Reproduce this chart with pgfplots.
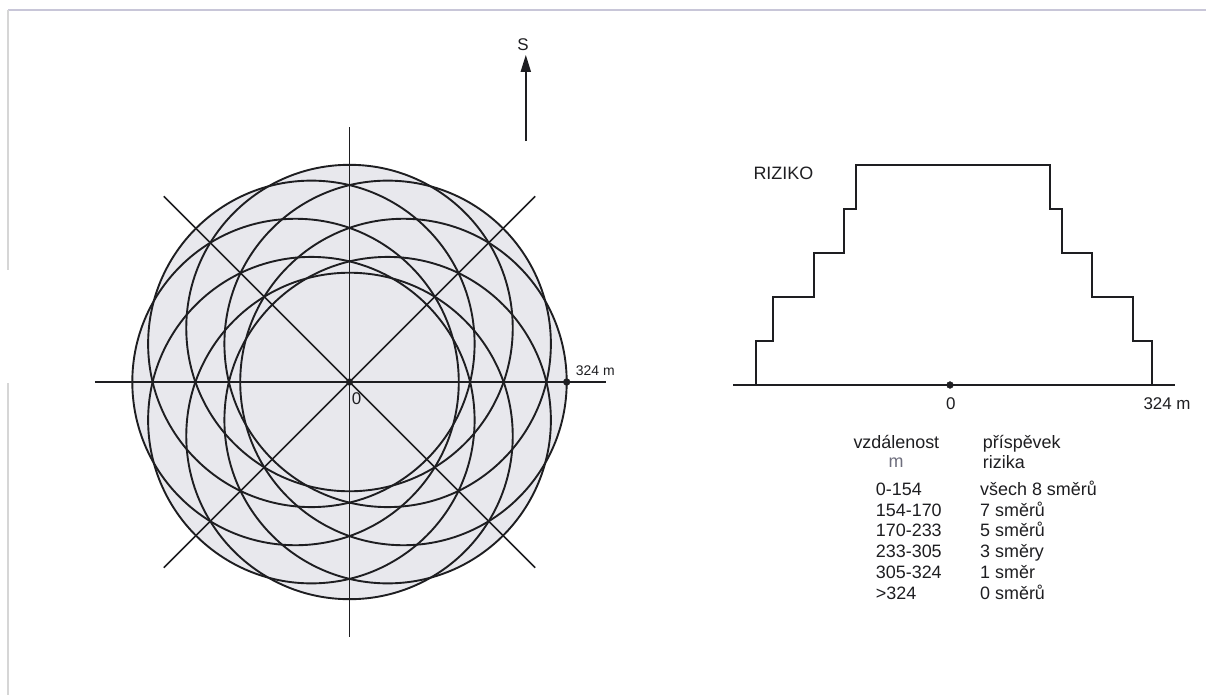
\documentclass[border=0pt]{standalone}
\usepackage{pgfplots}
\pgfplotsset{compat=1.18}
\usepackage{fontspec}
\setmainfont{Liberation Sans}
\usetikzlibrary{arrows.meta}
\definecolor{fillg}{RGB}{232,232,237}
\definecolor{ink}{RGB}{30,30,33}
\definecolor{frameA}{RGB}{200,198,216}
\definecolor{frameB}{RGB}{214,214,214}
\definecolor{mgray}{RGB}{110,110,125}

\begin{document}
\begin{tikzpicture}
\useasboundingbox (0,0) rectangle (1206bp,-695bp);
\fill[white] (0,0) rectangle (1206bp,-695bp);
% scan frame
\draw[frameA, line width=1.2bp] (8bp,-10bp) -- (1206bp,-10bp);
\draw[frameB, line width=1.2bp] (8bp,-10bp) -- (8bp,-270bp);
\draw[frameB, line width=1.2bp] (8bp,-383bp) -- (8bp,-695bp);

% ---------------- left: 8 offset circles ----------------
\begin{axis}[at={(349.5bp,-382bp)}, anchor=center, scale only axis,
  width=536.3bp, height=536.3bp,
  xmin=-400, xmax=400, ymin=-400, ymax=400,
  hide axis, clip=false]
% union fill (circle centres offset 80.5 m, radius 243.5 m)
\fill[fillg] (axis cs:80.5,0) circle[radius=243.5];
\fill[fillg] (axis cs:56.9,56.9) circle[radius=243.5];
\fill[fillg] (axis cs:0,80.5) circle[radius=243.5];
\fill[fillg] (axis cs:-56.9,56.9) circle[radius=243.5];
\fill[fillg] (axis cs:-80.5,0) circle[radius=243.5];
\fill[fillg] (axis cs:-56.9,-56.9) circle[radius=243.5];
\fill[fillg] (axis cs:0,-80.5) circle[radius=243.5];
\fill[fillg] (axis cs:56.9,-56.9) circle[radius=243.5];
% outlines
\draw[ink, line width=1.9bp] (axis cs:80.5,0) circle[radius=243.5];
\draw[ink, line width=1.9bp] (axis cs:56.9,56.9) circle[radius=243.5];
\draw[ink, line width=1.9bp] (axis cs:0,80.5) circle[radius=243.5];
\draw[ink, line width=1.9bp] (axis cs:-56.9,56.9) circle[radius=243.5];
\draw[ink, line width=1.9bp] (axis cs:-80.5,0) circle[radius=243.5];
\draw[ink, line width=1.9bp] (axis cs:-56.9,-56.9) circle[radius=243.5];
\draw[ink, line width=1.9bp] (axis cs:0,-80.5) circle[radius=243.5];
\draw[ink, line width=1.9bp] (axis cs:56.9,-56.9) circle[radius=243.5];
% direction lines
\addplot[ink, line width=1.8bp] coordinates {(-380,0) (383,0)};
\addplot[ink, line width=1.8bp] coordinates {(0,-380) (0,381)};
\addplot[ink, line width=1.6bp] coordinates {(-277,277) (277,-277)};
\addplot[ink, line width=1.6bp] coordinates {(-277,-277) (277,277)};
% points 0 and 324 m
\addplot[only marks, mark=*, mark size=3.4bp, ink] coordinates {(0,0) (324,0)};
% arrow S
\addplot[ink, line width=1.8bp, -{Triangle[length=17bp, width=10bp]}] coordinates {(263,359.5) (263,488)};
\node[anchor=base, inner sep=0, font=\fontsize{17}{20}\selectfont, text=ink] at (axis cs:258.8,495.2) {S};
\node[anchor=base west, inner sep=0, font=\fontsize{17}{20}\selectfont, text=ink] at (axis cs:3.3,-34.3) {0};
\node[anchor=base west, inner sep=0, font=\fontsize{14}{17}\selectfont, text=ink] at (axis cs:337.4,10.4) {324 m};
\end{axis}

% ---------------- right: risk step profile ----------------
\begin{axis}[at={(950bp,-385bp)}, anchor=south, scale only axis,
  width=498bp, height=220bp,
  xmin=-400, xmax=400, ymin=0, ymax=5,
  hide axis, clip=false]
\addplot[ink, line width=1.8bp] coordinates {(-348,0) (361.4,0)};
\addplot[ink, line width=2bp] coordinates {
  (-312,0) (-312,1) (-285,1) (-285,2) (-218.5,2) (-218.5,3)
  (-170,3) (-170,4) (-151,4) (-151,5) (160.6,5) (160.6,4)
  (179.4,4) (179.4,3) (227.6,3) (227.6,2) (294.5,2) (294.5,1)
  (324,1) (324,0)};
\addplot[only marks, mark=*, mark size=3.4bp, ink] coordinates {(0,0)};
\node[anchor=base west, inner sep=0, font=\fontsize{18}{21}\selectfont, text=ink] at (axis cs:-316,4.66) {RIZIKO};
\node[anchor=base, inner sep=0, font=\fontsize{17}{20}\selectfont, text=ink] at (axis cs:1.3,-0.568) {0};
\node[anchor=base west, inner sep=0, font=\fontsize{17}{20}\selectfont, text=ink] at (axis cs:310.5,-0.568) {324 m};
\end{axis}

% ---------------- legend table ----------------
\begin{scope}[every node/.style={anchor=base west, inner sep=0, font=\fontsize{18}{21}\selectfont, text=ink}]
\node at (853.3bp,-448.3bp) {vzdálenost};
\node[text=mgray] at (888.3bp,-467.5bp) {m};
\node at (982.7bp,-448.3bp) {příspěvek};
\node at (982.7bp,-468.5bp) {rizika};
\node at (875.7bp,-495bp) {0-154};
\node at (875.7bp,-516bp) {154-170};
\node at (875.7bp,-536.7bp) {170-233};
\node at (875.7bp,-557.3bp) {233-305};
\node at (875.7bp,-578.3bp) {305-324};
\node at (875.7bp,-599bp) {>324};
\node at (980bp,-495bp) {všech 8 směrů};
\node at (980bp,-516bp) {7 směrů};
\node at (980bp,-536.7bp) {5 směrů};
\node at (980bp,-557.3bp) {3 směry};
\node at (980bp,-578.3bp) {1 směr};
\node at (980bp,-599bp) {0 směrů};
\end{scope}
\end{tikzpicture}
\end{document}
